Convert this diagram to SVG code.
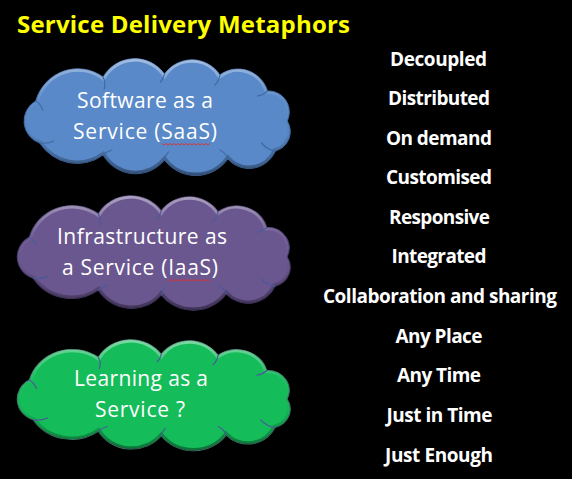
<svg xmlns="http://www.w3.org/2000/svg" xmlns:xlink="http://www.w3.org/1999/xlink" width="572" height="479" viewBox="0 0 572 479">
  <style>
    .title { font-family: "Open Sans", Lato, sans-serif; font-weight: bold; font-size: 24px; fill: #ffff00; }
    .item { font-family: "Open Sans", Lato, sans-serif; font-weight: bold; font-size: 19px; fill: #ffffff; text-anchor: middle; }
    .ctext { font-family: "Open Sans", Lato, sans-serif; font-size: 21px; fill: #ffffff; text-anchor: middle; }
    .bevel { fill: none; stroke: url(#bevelGrad); stroke-width: 6; }
    .inner { fill: none; stroke-width: 1.2; stroke-linecap: round; }
    .squiggle { fill: none; stroke: #e03030; stroke-width: 0.9; }
  </style>
  <defs>
    <path id="cloud" d="M20,40 A44,44 0 0 1 88,16 A37,37 0 0 1 150,13 A34,34 0 0 1 206,14 A31,31 0 0 1 254,30 A21,21 0 0 1 274,60 A20,20 0 0 1 262,90 A29,29 0 0 1 214,98 A40,40 0 0 1 150,99 A38,38 0 0 1 88,94 A45,45 0 0 1 24,82 A23,23 0 0 1 20,40 Z"/>
    <path id="cloudInner" d="M88,16 q3,6 1,12 M150,13 q-1,5 -4,8 M206,14 q-1,6 -5,10 M254,30 q-4,4 -10,5 M262,90 q-8,-1 -14,-8 M214,98 q-2,-6 -8,-9 M150,99 q1,-5 4,-8 M88,94 q4,-4 9,-5 M24,82 q8,1 14,-2 M20,40 q5,3 7,9"/>
    <clipPath id="cloudClip"><use xlink:href="#cloud"/></clipPath>
    <linearGradient id="bevelGrad" x1="0" y1="0" x2="0" y2="1">
      <stop offset="0" stop-color="#ffffff" stop-opacity="0.45"/>
      <stop offset="0.35" stop-color="#ffffff" stop-opacity="0.05"/>
      <stop offset="0.65" stop-color="#000000" stop-opacity="0.05"/>
      <stop offset="1" stop-color="#000000" stop-opacity="0.4"/>
    </linearGradient>
  </defs>
  <rect width="572" height="479" fill="#000000"/>

  <text class="title" x="17" y="33" textLength="333">Service Delivery Metaphors</text>

  <g id="cloud-saas">
    <g transform="translate(16,61) scale(0.99,1.0)">
      <use xlink:href="#cloud" fill="#5989c8" stroke="#3f6aa3" stroke-width="1"/>
      <use xlink:href="#cloud" class="bevel" clip-path="url(#cloudClip)"/>
      <use xlink:href="#cloudInner" class="inner" stroke="#3f6aa3"/>
    </g>
    <text class="ctext" x="145" y="108" textLength="136">Software as a</text>
    <text class="ctext" x="145" y="139" textLength="144">Service (SaaS)</text>
    <path class="squiggle" d="M162,143.5 l2,1.5 l2,-1.5 l2,1.5 l2,-1.5 l2,1.5 l2,-1.5 l2,1.5 l2,-1.5 l2,1.5 l2,-1.5 l2,1.5 l2,-1.5 l2,1.5 l2,-1.5 l2,1.5 l2,-1.5 l2,1.5 l2,-1.5 l2,1.5 l2,-1.5 l2,1.5 l2,-1.5 l2,1.5 l2,-1.5"/>
  </g>

  <g id="cloud-iaas">
    <g transform="translate(9,198) scale(1.015,0.98)">
      <use xlink:href="#cloud" fill="#6b578f" stroke="#4a3a6c" stroke-width="1"/>
      <use xlink:href="#cloud" class="bevel" clip-path="url(#cloudClip)"/>
      <use xlink:href="#cloudInner" class="inner" stroke="#4a5a9a"/>
    </g>
    <text class="ctext" x="142" y="244" textLength="170">Infrastructure as</text>
    <text class="ctext" x="140" y="275" textLength="156">a Service (IaaS)</text>
    <path class="squiggle" d="M168,279.5 l2,1.5 l2,-1.5 l2,1.5 l2,-1.5 l2,1.5 l2,-1.5 l2,1.5 l2,-1.5 l2,1.5 l2,-1.5 l2,1.5 l2,-1.5 l2,1.5 l2,-1.5 l2,1.5 l2,-1.5 l2,1.5 l2,-1.5 l2,1.5 l2,-1.5 l2,1.5"/>
  </g>

  <g id="cloud-laas">
    <g transform="translate(9,342) scale(1.015,0.95)">
      <use xlink:href="#cloud" fill="#14bd5a" stroke="#3d7a6a" stroke-width="1"/>
      <use xlink:href="#cloud" class="bevel" clip-path="url(#cloudClip)"/>
      <use xlink:href="#cloudInner" class="inner" stroke="#4a5a9a"/>
    </g>
    <text class="ctext" x="141" y="386" textLength="134">Learning as a</text>
    <text class="ctext" x="140" y="417" textLength="90">Service ?</text>
  </g>

  <g id="metaphors">
    <text class="item" x="438.5" y="65.5" textLength="97">Decoupled</text>
    <text class="item" x="439" y="105" textLength="102">Distributed</text>
    <text class="item" x="439" y="144.5" textLength="106">On demand</text>
    <text class="item" x="439" y="184" textLength="106">Customised</text>
    <text class="item" x="439.5" y="223.5" textLength="101">Responsive</text>
    <text class="item" x="439" y="263" textLength="95">Integrated</text>
    <text class="item" x="440" y="302.5" textLength="234">Collaboration and sharing</text>
    <text class="item" x="439" y="342.5" textLength="87">Any Place</text>
    <text class="item" x="439" y="382" textLength="84">Any Time</text>
    <text class="item" x="439.5" y="421.5" textLength="106">Just in Time</text>
    <text class="item" x="439" y="461.5" textLength="108">Just Enough</text>
  </g>
</svg>
